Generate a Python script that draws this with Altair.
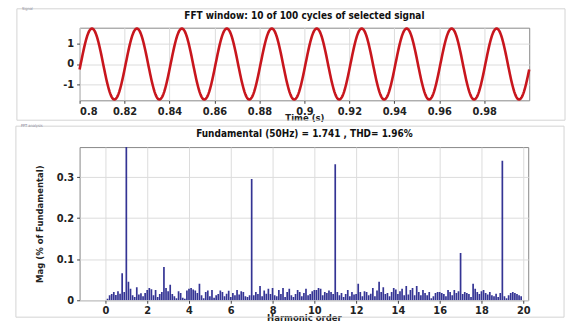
import altair as alt
import numpy as np
import pandas as pd

# ---- signal window -------------------------------------------------------
fund_hz = 50.0          # fundamental frequency
fund_mag = 1.741        # fundamental peak magnitude
phase_rad = -0.156      # phase of the fundamental at the window start
t_start, t_end = 0.8, 1.0
time_ticks = [0.8, 0.82, 0.84, 0.86, 0.88, 0.9, 0.92, 0.94, 0.96, 0.98]

# ---- spectrum (harmonic order in 0.1 steps, % of fundamental) ------------
mag_0 = [0.0, 0.004, 0.012, 0.015, 0.02, 0.013, 0.022, 0.016, 0.066, 0.02]
mag_1 = [100.0, 0.045, 0.028, 0.012, 0.008, 0.032, 0.014, 0.017, 0.01, 0.018]
mag_2 = [0.025, 0.03, 0.027, 0.012, 0.025, 0.008, 0.015, 0.02, 0.081, 0.03]
mag_3 = [0.022, 0.038, 0.015, 0.01, 0.005, 0.022, 0.018, 0.006, 0.004, 0.024]
mag_4 = [0.028, 0.03, 0.026, 0.024, 0.018, 0.04, 0.012, 0.005, 0.02, 0.024]
mag_5 = [0.01, 0.025, 0.006, 0.012, 0.015, 0.024, 0.02, 0.01, 0.016, 0.023]
mag_6 = [0.008, 0.018, 0.012, 0.025, 0.014, 0.022, 0.02, 0.01, 0.008, 0.012]
mag_7 = [0.295, 0.012, 0.02, 0.015, 0.035, 0.01, 0.024, 0.016, 0.028, 0.015]
mag_8 = [0.03, 0.012, 0.01, 0.025, 0.015, 0.03, 0.008, 0.02, 0.028, 0.012]
mag_9 = [0.008, 0.015, 0.025, 0.02, 0.01, 0.018, 0.028, 0.012, 0.015, 0.022]
mag_10 = [0.025, 0.025, 0.03, 0.028, 0.012, 0.02, 0.018, 0.024, 0.02, 0.015]
mag_11 = [0.331, 0.02, 0.012, 0.018, 0.008, 0.015, 0.025, 0.01, 0.02, 0.014]
mag_12 = [0.015, 0.04, 0.02, 0.01, 0.022, 0.02, 0.012, 0.016, 0.03, 0.01]
mag_13 = [0.024, 0.045, 0.02, 0.032, 0.015, 0.018, 0.01, 0.02, 0.03, 0.026]
mag_14 = [0.015, 0.022, 0.028, 0.012, 0.035, 0.014, 0.025, 0.03, 0.012, 0.035]
mag_15 = [0.02, 0.012, 0.025, 0.018, 0.012, 0.02, 0.005, 0.01, 0.018, 0.02]
mag_16 = [0.02, 0.018, 0.015, 0.01, 0.025, 0.02, 0.012, 0.025, 0.018, 0.022]
mag_17 = [0.115, 0.015, 0.02, 0.018, 0.015, 0.008, 0.04, 0.028, 0.02, 0.015]
mag_18 = [0.022, 0.025, 0.018, 0.014, 0.02, 0.012, 0.01, 0.016, 0.008, 0.018]
mag_19 = [0.34, 0.01, 0.005, 0.012, 0.018, 0.02, 0.018, 0.015, 0.012, 0.01]
mag_20 = [0.0]
harmonic_ticks = [0, 2, 4, 6, 8, 10, 12, 14, 16, 18, 20]

spectrum = (mag_0 + mag_1 + mag_2 + mag_3 + mag_4 + mag_5 + mag_6 + mag_7 + mag_8
            + mag_9 + mag_10 + mag_11 + mag_12 + mag_13 + mag_14 + mag_15
            + mag_16 + mag_17 + mag_18 + mag_19 + mag_20)
spec_df = pd.DataFrame({
    "order": np.round(np.arange(len(spectrum)) * 0.1, 1),
    "mag": spectrum,
})

# time samples of the windowed fundamental
t = np.linspace(t_start, t_end, 1001)
sig_df = pd.DataFrame({
    "t": t,
    "v": fund_mag * np.sin(2 * np.pi * fund_hz * t + phase_rad),
})

FONT = "DejaVu Sans Condensed, Liberation Sans, sans-serif"
FRAME = "#d4d4d4"
GRID = "#dcdcdc"
one = pd.DataFrame({"k": [0]})


def panel_frame(x0, x1, y0, y1, label, heading, head_x, head_y):
    box = alt.Chart(one).mark_rect(fill=None, stroke=FRAME, strokeWidth=1).encode(
        x=alt.value(x0), x2=alt.value(x1), y=alt.value(y0), y2=alt.value(y1)
    )
    tag = alt.Chart(one).mark_text(
        text=label, fontSize=4, color="#9090a0", align="left", baseline="middle",
        font=FONT,
    ).encode(x=alt.value(x0 + 5), y=alt.value(y0))
    head = alt.Chart(one).mark_text(
        text=heading, fontSize=10, fontWeight="bold", color="#111",
        align="center", baseline="middle", font=FONT,
    ).encode(x=alt.value(head_x), y=alt.value(head_y))
    return box + tag + head


axis_common = dict(
    labelFont=FONT, labelFontSize=11, labelFontWeight="bold", labelColor="#222",
    titleFont=FONT, titleFontSize=9.5, titleFontWeight="bold", titleColor="#222",
    gridColor=GRID, gridWidth=1, domain=False, tickColor="#444", tickSize=3,
)

# ---- top panel: time signal ---------------------------------------------
signal = alt.Chart(sig_df).mark_line(color="#c8161d", strokeWidth=2.6).encode(
    x=alt.X("t:Q", scale=alt.Scale(domain=[t_start, t_end], nice=False, zero=False),
            axis=alt.Axis(values=time_ticks, format=".2~f", title="Time (s)",
                          titlePadding=-4, labelPadding=2, **axis_common)),
    y=alt.Y("v:Q", scale=alt.Scale(domain=[-1.78, 1.78], nice=False),
            axis=alt.Axis(values=[-1, 0, 1], labelExpr="datum.value", title=None,
                          labelPadding=3, **axis_common)),
)
top = alt.layer(
    signal,
    panel_frame(-63, 488, -19, 93, "Signal",
                "FFT window: 10 of 100 cycles of selected signal", 226, -12),
).properties(width=452, height=73)

# ---- bottom panel: harmonic spectrum ------------------------------------
bars = alt.Chart(spec_df).mark_bar(size=1.7, color="#343494", clip=True).encode(
    x=alt.X("order:Q", scale=alt.Scale(domain=[-1, 20], nice=False),
            axis=alt.Axis(values=harmonic_ticks, title="Harmonic order",
                          titlePadding=-3, labelPadding=1, **axis_common)),
    y=alt.Y("mag:Q", scale=alt.Scale(domain=[0, 0.373], nice=False),
            axis=alt.Axis(values=[0, 0.1, 0.2, 0.3], format=".1~f",
                          title="Mag (% of Fundamental)",
                          titlePadding=12, labelPadding=3, **axis_common)),
)
bottom = alt.layer(
    bars,
    panel_frame(-64, 487, -21, 171, "FFT analysis",
                "Fundamental (50Hz) = 1.741 , THD= 1.96%", 226, -13),
).properties(width=451, height=154)

chart = alt.vconcat(top, bottom, spacing=1).properties(
    padding={"left": 15, "top": 5, "right": 4, "bottom": 0},
    background="white",
).configure_view(stroke="#888888", strokeWidth=1)

chart.save("out.html", embed_options={"renderer": "svg", "actions": False})
